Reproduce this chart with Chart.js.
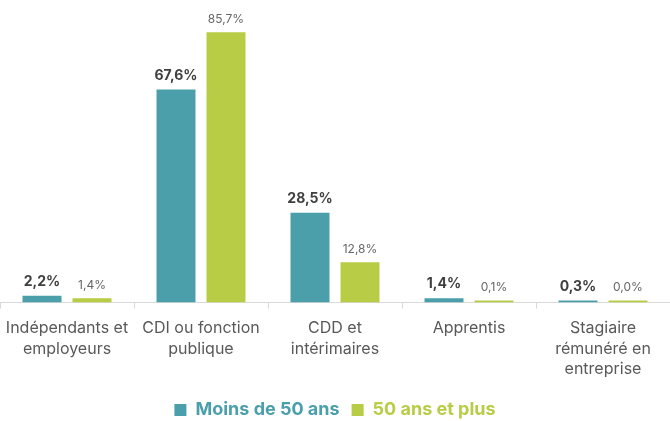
<!DOCTYPE html>
<html>
<head>
<meta charset="utf-8">
<script src="https://cdn.jsdelivr.net/npm/chart.js@4"></script>
<style>
  html, body { margin: 0; padding: 0; background: #fff; }
  #wrap { width: 670px; height: 421px; }
</style>
</head>
<body>
<div id="wrap"><canvas id="chart"></canvas></div>
<script>
const categories = [
  ['Indépendants et', 'employeurs'],
  ['CDI ou fonction', 'publique'],
  ['CDD et', 'intérimaires'],
  ['Apprentis'],
  ['Stagiaire', 'rémunéré en', 'entreprise']
];
const moins50 = [2.2, 67.6, 28.5, 1.4, 0.3];
const plus50 = [1.4, 85.7, 12.8, 0.1, 0.0];
const seriesNames = ['Moins de 50 ans', '50 ans et plus'];

const TEAL = '#4a9faa';
const GREEN = '#b9cc46';
const FONT = 'Inter, "Open Sans", sans-serif';

// value labels above bars
const valueLabels = {
  id: 'valueLabels',
  afterDatasetsDraw(chart) {
    const ctx = chart.ctx;
    ctx.save();
    ctx.textAlign = 'center';
    ctx.textBaseline = 'bottom';
    chart.data.datasets.forEach((ds, i) => {
      const meta = chart.getDatasetMeta(i);
      meta.data.forEach((bar, j) => {
        const txt = ds.data[j].toFixed(1).replace('.', ',') + '%';
        if (i === 0) {
          ctx.font = 'bold 14px ' + FONT;
          ctx.fillStyle = '#404040';
        } else {
          ctx.font = '12px ' + FONT;
          ctx.fillStyle = '#666666';
        }
        ctx.fillText(txt, bar.x, Math.min(bar.y, bar.base - 2) - 7);
      });
    });
    ctx.restore();
  }
};

new Chart(document.getElementById('chart'), {
  type: 'bar',
  data: {
    labels: categories,
    datasets: [
      { label: seriesNames[0], data: moins50, backgroundColor: TEAL },
      { label: seriesNames[1], data: plus50, backgroundColor: GREEN }
    ]
  },
  options: {
    responsive: true,
    maintainAspectRatio: false,
    animation: false,
    datasets: {
      bar: { categoryPercentage: 0.746, barPercentage: 0.78, minBarLength: 2 }
    },
    layout: { padding: { top: 3, left: 0, right: 0, bottom: -8 } },
    scales: {
      x: {
        afterFit(scale) { scale.paddingLeft = 0; scale.paddingRight = 0; },
        grid: { offset: true, drawOnChartArea: false, tickLength: 6, color: '#d9d9d9' },
        border: { color: '#d9d9d9' },
        ticks: { color: '#595959', font: { family: FONT, size: 16, lineHeight: 1.3 }, padding: 9, maxRotation: 0, autoSkip: false }
      },
      y: { display: false, min: 0, max: 95 }
    },
    plugins: {
      tooltip: { enabled: false },
      legend: {
        position: 'bottom',
        labels: {
          boxWidth: 12,
          boxHeight: 12,
          padding: 12,
          font: { family: FONT, size: 18, weight: 'bold' },
          generateLabels(chart) {
            return chart.data.datasets.map((ds, i) => ({
              text: ds.label,
              fillStyle: ds.backgroundColor,
              strokeStyle: ds.backgroundColor,
              lineWidth: 0,
              fontColor: ds.backgroundColor,
              datasetIndex: i
            }));
          }
        }
      }
    }
  },
  plugins: [valueLabels]
});
</script>
</body>
</html>
